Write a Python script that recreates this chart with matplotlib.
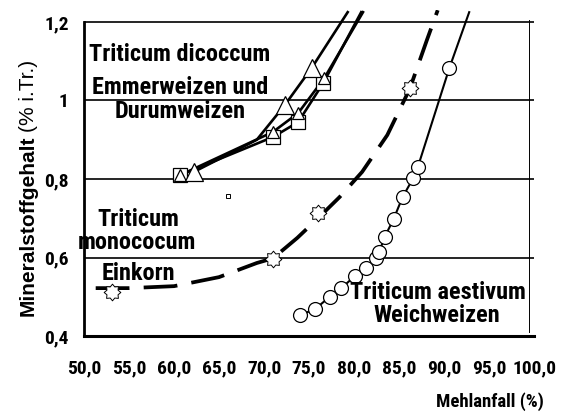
import matplotlib
matplotlib.use("Agg")
import matplotlib.pyplot as plt
from matplotlib.path import Path
import numpy as np

plt.rcParams['font.family'] = ['Roboto Condensed', 'Liberation Sans', 'DejaVu Sans']

# ---- data ----
x_ticks = [50, 55, 60, 65, 70, 75, 80, 85, 90, 95, 100]
x_tick_labels = ['50,0', '55,0', '60,0', '65,0', '70,0', '75,0', '80,0', '85,0', '90,0', '95,0', '100,0']
y_ticks = [0.4, 0.6, 0.8, 1.0, 1.2]
y_tick_labels = ['0,4', '0,6', '0,8', '1', '1,2']

# Triticum dicoccum (three series) - points and line continuation to the top
dic_a_x = [62.2, 72.3, 75.3]
dic_a_y = [0.818, 0.988, 1.083]
dic_a_line_x = [62.2, 69.2, 72.3, 75.3, 79.3]
dic_a_line_y = [0.818, 0.900, 0.988, 1.083, 1.225]

dic_b_x = [60.7, 71.0, 73.8, 76.6]
dic_b_y = [0.810, 0.907, 0.945, 1.045]
dic_b_line_x = [60.7, 71.0, 73.8, 76.6, 80.8]
dic_b_line_y = [0.810, 0.907, 0.945, 1.045, 1.225]

dic_c_x = [60.7, 71.0, 73.8, 76.7]
dic_c_y = [0.810, 0.920, 0.968, 1.057]
dic_c_line_x = [60.7, 71.0, 73.8, 76.7, 81.0]
dic_c_line_y = [0.810, 0.920, 0.968, 1.057, 1.225]

# Triticum monococum (Einkorn)
ein_x = [53.1, 71.0, 76.0, 86.2]
ein_y = [0.512, 0.596, 0.713, 1.032]
ein_curve_x = [51.3, 55.0, 60.0, 65.0, 69.2, 71.0, 73.7, 76.0, 78.4, 80.9, 83.7, 86.2, 88.1, 89.3]
ein_curve_y = [0.522, 0.522, 0.527, 0.550, 0.586, 0.598, 0.650, 0.700, 0.754, 0.818, 0.912, 1.030, 1.154, 1.230]

# Triticum aestivum (Weichweizen)
aes_x = [74.0, 75.7, 77.3, 78.6, 80.1, 81.3, 82.4, 82.8, 83.4, 84.4, 85.4, 86.6, 87.1, 90.6]
aes_y = [0.453, 0.469, 0.500, 0.522, 0.553, 0.573, 0.599, 0.614, 0.652, 0.698, 0.754, 0.803, 0.831, 1.083]
aes_line_x = aes_x + [92.8]
aes_line_y = aes_y + [1.225]

stray_x = [66.0]
stray_y = [0.757]

# star-burst marker shape (16 vertices, shallow points)
ang = np.linspace(0, 2 * np.pi, 17)[:-1] + np.pi / 2
rad = np.where(np.arange(16) % 2 == 0, 1.0, 0.72)
star_marker = Path(np.column_stack([rad * np.cos(ang), rad * np.sin(ang)]).tolist() + [[0, 1.0]],
                   closed=True)

# ---- figure ----
fig = plt.figure(figsize=(5.63, 4.13), dpi=100)
ax = fig.add_axes([0.1492, 0.1864, 0.7993, 0.7889])
ax.set_xlim(50, 100)
ax.set_ylim(0.4, 1.23)

for s in ['top', 'right']:
    ax.spines[s].set_visible(False)
ax.spines['left'].set_bounds(0.4, 1.2)
ax.spines['left'].set_linewidth(2.0)
ax.spines['bottom'].set_linewidth(2.2)

for gy in [0.6, 0.8, 1.0, 1.2]:
    ax.axhline(gy, color='black', lw=1.2, zorder=1)
ax.plot([99.4, 99.4], [0.41, 1.205], color='black', lw=0.7, zorder=1)

ax.set_xticks(x_ticks)
ax.set_xticklabels(x_tick_labels)
ax.set_yticks(y_ticks)
ax.set_yticklabels(y_tick_labels)
ax.tick_params(axis='both', length=0)
ax.tick_params(axis='x', pad=17, labelsize=14)
ax.tick_params(axis='y', pad=11, labelsize=14)
for lab in ax.get_xticklabels() + ax.get_yticklabels():
    lab.set_fontweight('bold')

lw_d = 1.9
ax.plot(dic_a_line_x, dic_a_line_y, color='black', lw=lw_d, zorder=3)
ax.plot(dic_b_line_x, dic_b_line_y, color='black', lw=lw_d, zorder=3)
ax.plot(dic_c_line_x, dic_c_line_y, color='black', lw=lw_d, zorder=3)
ax.plot(dic_b_x, dic_b_y, ls='none', marker='s', ms=10, mfc='white', mec='black', mew=0.9, zorder=4)
ax.plot(dic_c_x, dic_c_y, ls='none', marker='^', ms=9, mfc='white', mec='black', mew=0.9, zorder=5)
ax.plot(dic_a_x, dic_a_y, ls='none', marker='^', ms=13, mfc='white', mec='black', mew=0.9, zorder=5)

ax.plot(ein_curve_x, ein_curve_y, color='black', lw=2.7, dashes=(9, 3.8), zorder=3)
ax.plot(ein_x, ein_y, ls='none', marker=star_marker, ms=12, mfc='white', mec='black', mew=0.7, zorder=5)

ax.plot(aes_line_x, aes_line_y, color='black', lw=1.5, zorder=3)
ax.plot(aes_x, aes_y, ls='none', marker='o', ms=10, mfc='white', mec='black', mew=0.9, zorder=5)

ax.plot(stray_x, stray_y, ls='none', marker='s', ms=3.5, mfc='white', mec='black', mew=0.7, zorder=5)

tkw = dict(ha='center', va='center', fontsize=17.5, fontweight='bold', zorder=6, clip_on=False)
ax.text(60.67, 1.116, 'Triticum dicoccum', **tkw)
ax.text(60.67, 1.032, 'Emmerweizen und', **tkw)
ax.text(60.67, 0.971, 'Durumweizen', **tkw)
ax.text(56.0, 0.696, 'Triticum', **tkw)
ax.text(55.9, 0.637, 'monococum', **tkw)
ax.text(56.0, 0.560, 'Einkorn', **tkw)
ax.text(89.3, 0.510, 'Triticum aestivum', **tkw)
ax.text(89.2, 0.453, 'Weichweizen', **tkw)

# y label: bold part + regular part, stacked along the axis (wider sans face)
W, H = 563, 413
ylab_font = ['Liberation Sans', 'DejaVu Sans']
t1 = fig.text(28 / W, 1 - 316 / H, 'Mineralstoffgehalt', rotation=90, ha='center', va='bottom',
              fontsize=15, fontweight='bold', family=ylab_font)
fig.canvas.draw()
bb = t1.get_window_extent()
t2 = fig.text(28 / W, (bb.y1 + 4) / H, '(% i.Tr.)', rotation=90, ha='center', va='bottom',
              fontsize=15, family=ylab_font)
fig.text(490 / W, 1 - 402 / H, 'Mehlanfall (%)', ha='center', va='center',
         fontsize=13.5, fontweight='bold')

fig.savefig('out.png', dpi=100)
